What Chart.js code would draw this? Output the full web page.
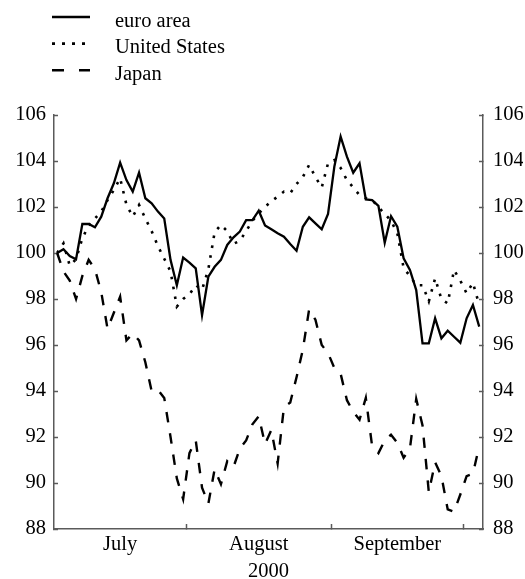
<!DOCTYPE html>
<html>
<head>
<meta charset="utf-8">
<script src="https://cdn.jsdelivr.net/npm/chart.js@4/dist/chart.umd.min.js"></script>
<style>
  html, body { margin: 0; padding: 0; background: #fff; }
  #wrap { width: 525px; height: 579px; }
</style>
</head>
<body>
<div id="wrap"><canvas id="chart" width="525" height="579"></canvas></div>
<script>
// business days, 3 July - 4 October 2000 (MM-DD)
const days = [
  "07-03", "07-04", "07-05", "07-06", "07-07", "07-10", "07-11", "07-12", "07-13", "07-14",
  "07-17", "07-18", "07-19", "07-20", "07-21", "07-24", "07-25", "07-26", "07-27", "07-28", "07-31",
  "08-01", "08-02", "08-03", "08-04", "08-07", "08-08", "08-09", "08-10", "08-11", "08-14",
  "08-15", "08-16", "08-17", "08-18", "08-21", "08-22", "08-23", "08-24", "08-25", "08-28",
  "08-29", "08-30", "08-31",
  "09-01", "09-04", "09-05", "09-06", "09-07", "09-08", "09-11", "09-12", "09-13", "09-14",
  "09-15", "09-18", "09-19", "09-20", "09-21", "09-22", "09-25", "09-26", "09-27", "09-28", "09-29",
  "10-02", "10-03", "10-04"
];
const monthLabels = ["July", "August", "September"];
const monthKeys = ["07", "08", "09"];
const yearLabel = "2000";
const yTicks = [88, 90, 92, 94, 96, 98, 100, 102, 104, 106];
const seriesNames = ["euro area", "United States", "Japan"];

const euroArea = [
  100.0, 100.16, 99.87, 99.73, 101.26, 101.26, 101.12, 101.58, 102.38, 103.03,
  103.93, 103.17, 102.67, 103.49, 102.38, 102.16, 101.8, 101.5, 99.7, 98.6,
  99.8, 99.58, 99.33, 97.3, 98.97, 99.4, 99.7, 100.35, 100.68, 100.93,
  101.43, 101.43, 101.84, 101.2, 101.03, 100.86, 100.71, 100.39, 100.1, 101.14,
  101.55, 101.29, 101.03, 101.7, 103.75, 105.06, 104.19, 103.49, 103.9, 102.33,
  102.3, 102.05, 100.45, 101.6, 101.14, 99.77, 99.26, 98.39, 96.07, 96.07,
  97.16, 96.29, 96.62, 96.36, 96.1, 97.16, 97.74, 96.8
];
const unitedStates = [
  100.0, 100.42, 99.45, 99.73, 100.64, 101.2, 101.5, 101.8, 102.3, 102.74,
  103.25, 102.1, 101.58, 102.09, 101.5, 100.95, 100.3, 99.75, 99.2, 97.67,
  98.0, 98.2, 98.6, 98.4, 99.3, 100.9, 101.22, 100.95, 100.4, 100.53,
  100.95, 101.4, 101.72, 102.0, 102.25, 102.45, 102.67, 102.6, 103.0, 103.3,
  103.83, 103.3, 102.85, 103.9, 104.04, 103.7, 103.17, 102.85, 102.52, 102.38,
  102.3, 102.0, 101.7, 101.4, 100.86, 99.35, 99.0, 98.6, 98.6, 97.9,
  98.9, 97.99, 97.81, 99.26, 98.8, 98.25, 98.71, 97.74
];
const japan = [
  100.0, 99.2, 98.8, 98.0, 99.0, 99.7, 99.3, 98.3, 96.7, 97.4,
  98.1, 96.2, 96.5, 96.2, 95.25, 94.0, 94.05, 93.7, 92.0, 90.2,
  89.3, 91.3, 91.85, 89.8, 89.1, 90.6, 89.95, 90.95, 90.7, 91.5,
  91.85, 92.55, 92.9, 91.7, 92.3, 90.85, 93.3, 93.5, 94.6, 95.8,
  97.55, 97.1, 96.0, 95.65, 95.0, 94.75, 93.6, 93.1, 92.75, 93.7,
  91.6, 91.3, 91.85, 92.1, 91.75, 91.1, 91.5, 93.65, 92.5, 89.6,
  90.9, 90.3, 88.85, 88.75, 89.5, 90.3, 90.4, 91.6
];

const axisColor = "#5a5a5a";
const serif = "'Liberation Serif', 'Times New Roman', serif";
const fontSize = 20.5;

// month boundaries (tick marks) and month centres (labels), from the day list
const monthStarts = [];
for (let i = 1; i < days.length; i++) {
  if (days[i].slice(0, 2) !== days[i - 1].slice(0, 2)) monthStarts.push(i - 0.5);
}
const monthCentres = monthKeys.map((m) => {
  const idx = days.map((d, i) => (d.startsWith(m) ? i : -1)).filter((i) => i >= 0);
  return (idx[0] + idx[idx.length - 1]) / 2;
});
const xTickValues = [...monthCentres, ...monthStarts].sort((a, b) => a - b);

const toPoints = (arr) => arr.map((v, i) => ({ x: i, y: v }));

const stackedLegend = {
  id: "stackedLegend",
  afterDraw(chart, args, opts) {
    const { ctx } = chart;
    chart.data.datasets.forEach((ds, i) => {
      const y = opts.top + i * opts.rowGap;
      ctx.save();
      ctx.strokeStyle = ds.borderColor;
      ctx.lineWidth = ds.borderWidth;
      ctx.setLineDash(opts.dashes[i]);
      ctx.beginPath();
      ctx.moveTo(opts.lineLeft, y);
      ctx.lineTo(opts.lineLeft + opts.lineLength, y);
      ctx.stroke();
      ctx.setLineDash([]);
      ctx.fillStyle = "#000";
      ctx.font = `${fontSize}px ${serif}`;
      ctx.textBaseline = "alphabetic";
      ctx.textAlign = "left";
      ctx.fillText(ds.label, opts.textLeft, y + opts.baselineShift);
      ctx.restore();
    });
  },
};

const yAxis = (position, padding, width) => ({
  type: "linear",
  position,
  min: 88,
  max: 106,
  afterBuildTicks(scale) {
    scale.ticks = yTicks.map((v) => ({ value: v }));
  },
  afterFit(scale) {
    scale.width = width;
  },
  ticks: { padding, color: "#000" },
  grid: {
    drawOnChartArea: false,
    tickLength: -4,
    tickColor: axisColor,
    tickWidth: 1.5,
  },
  border: { color: axisColor, width: 1.5 },
});

Chart.defaults.font.family = serif;
Chart.defaults.font.size = fontSize;
Chart.defaults.color = "#000";

new Chart(document.getElementById("chart"), {
  type: "line",
  data: {
    datasets: [
      {
        label: seriesNames[0],
        data: toPoints(euroArea),
        borderColor: "#000",
        borderWidth: 2.3,
        pointRadius: 0,
      },
      {
        label: seriesNames[1],
        data: toPoints(unitedStates),
        borderColor: "#000",
        borderWidth: 2.6,
        borderDash: [2.6, 7.4],
        pointRadius: 0,
      },
      {
        label: seriesNames[2],
        data: toPoints(japan),
        borderColor: "#000",
        borderWidth: 2.4,
        borderDash: [10.5, 11],
        pointRadius: 0,
      },
    ],
  },
  options: {
    responsive: false,
    animation: false,
    devicePixelRatio: 1,
    layout: { padding: { left: 16, right: 2, top: 115, bottom: 0 } },
    plugins: {
      legend: { display: false },
      tooltip: { enabled: false },
      stackedLegend: {
        top: 17,
        rowGap: 26.6,
        lineLeft: 52,
        lineLength: 38,
        textLeft: 115,
        baselineShift: 9.8,
        dashes: [[], [3, 7], [12, 15]],
      },
    },
    scales: {
      x: {
        type: "linear",
        min: -0.5,
        max: 67.6,
        afterBuildTicks(scale) {
          scale.ticks = xTickValues.map((v) => ({ value: v }));
        },
        afterFit(scale) {
          scale.height = 50;
        },
        ticks: {
          autoSkip: false,
          maxRotation: 0,
          padding: 8,
          color: "#000",
          callback: (v) => {
            const k = monthCentres.indexOf(v);
            return k >= 0 ? monthLabels[k] : "";
          },
        },
        grid: {
          drawOnChartArea: false,
          tickLength: -5,
          tickWidth: 1.5,
          tickColor: (c) => (monthStarts.includes(c.tick.value) ? axisColor : "rgba(0,0,0,0)"),
        },
        border: { color: axisColor, width: 1.5 },
        title: {
          display: true,
          text: yearLabel,
          color: "#000",
          font: { size: fontSize, lineHeight: 1 },
          padding: { top: 4, bottom: -2.5 },
        },
      },
      y: yAxis("left", 12, 38),
      y2: yAxis("right", 14, 40),
    },
  },
  plugins: [stackedLegend],
});
</script>
</body>
</html>
